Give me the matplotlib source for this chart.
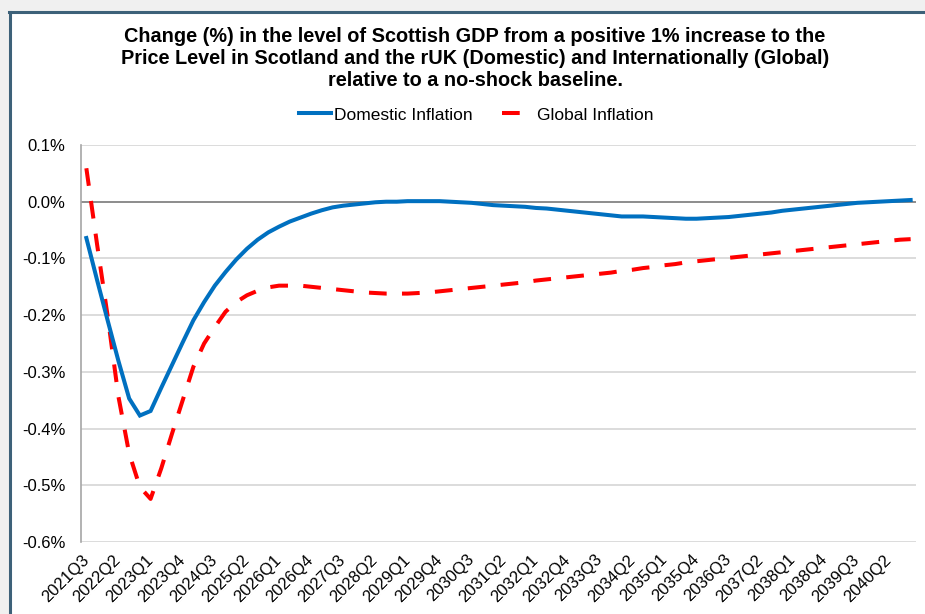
import matplotlib
matplotlib.use("Agg")
import matplotlib.pyplot as plt
from matplotlib.lines import Line2D
from matplotlib.patches import Rectangle
import numpy as np

plt.rcParams['font.family'] = ['Liberation Sans', 'DejaVu Sans']

# Quarterly categories 2021Q3 .. 2040Q4
quarters = [f"{y}Q{q}" for y in range(2021, 2041) for q in range(1, 5)][2:]

# % change in Scottish GDP level vs. no-shock baseline
domestic_inflation = [
    -0.064, -0.138, -0.210, -0.281, -0.347, -0.377, -0.369, -0.328, -0.288, -0.248,
    -0.209, -0.177, -0.148, -0.124, -0.102, -0.083, -0.067, -0.054, -0.044, -0.035,
    -0.028, -0.021, -0.015, -0.010, -0.007, -0.005, -0.003, -0.001, 0.000, 0.000,
    0.001, 0.001, 0.001, 0.001, 0.000, -0.001, -0.002, -0.004, -0.006, -0.007,
    -0.008, -0.009, -0.011, -0.012, -0.014, -0.016, -0.018, -0.020, -0.022, -0.024,
    -0.026, -0.026, -0.026, -0.027, -0.028, -0.029, -0.030, -0.030, -0.029, -0.028,
    -0.027, -0.025, -0.023, -0.021, -0.019, -0.016, -0.014, -0.012, -0.010, -0.008,
    -0.006, -0.004, -0.002, -0.001, 0.000, 0.001, 0.002, 0.003,
]
global_inflation = [
    0.059, -0.075, -0.203, -0.344, -0.444, -0.503, -0.524, -0.470, -0.409, -0.350,
    -0.291, -0.250, -0.221, -0.194, -0.177, -0.165, -0.157, -0.151, -0.148, -0.148,
    -0.148, -0.150, -0.152, -0.154, -0.156, -0.158, -0.160, -0.161, -0.162, -0.162,
    -0.162, -0.161, -0.160, -0.158, -0.156, -0.154, -0.152, -0.150, -0.148, -0.146,
    -0.144, -0.142, -0.139, -0.137, -0.135, -0.133, -0.131, -0.129, -0.127, -0.125,
    -0.122, -0.120, -0.117, -0.115, -0.112, -0.110, -0.107, -0.105, -0.103, -0.101,
    -0.099, -0.097, -0.095, -0.093, -0.091, -0.089, -0.087, -0.085, -0.083, -0.081,
    -0.079, -0.077, -0.075, -0.073, -0.071, -0.069, -0.067, -0.066,
]
y_ticks = [0.1, 0.0, -0.1, -0.2, -0.3, -0.4, -0.5, -0.6]

title = ("Change (%) in the level of Scottish GDP from a positive 1% increase to the\n"
         "Price Level in Scotland and the rUK (Domestic) and Internationally (Global)\n"
         "relative to a no-shock baseline.")

W, H = 925, 614
fig = plt.figure(figsize=(W / 100, H / 100), dpi=100, facecolor='#f0f0f0')

# white chart area with dark frame along left and top edges
fig.patches.append(Rectangle((11 / W, 0), 1, 1 - 13 / H, transform=fig.transFigure,
                             facecolor='white', edgecolor='none', zorder=-2))
fig.lines.append(Line2D([10 / W, 10 / W], [0, 1 - 11.5 / H], transform=fig.transFigure,
                        color='#3d6179', lw=2.2, zorder=-1))
fig.lines.append(Line2D([9 / W, 1], [1 - 12 / H, 1 - 12 / H], transform=fig.transFigure,
                        color='#3d6179', lw=2.2, zorder=-1))

ax = fig.add_axes([81 / W, 1 - 542 / H, (916 - 81) / W, (542 - 145) / H], zorder=1)
ax.set_facecolor('white')

dash = (4.4, 3.8)
x = np.arange(len(quarters))
ax.plot(x, domestic_inflation, color='#0070C0', lw=2.9, solid_joinstyle='miter', zorder=4)
ax.plot(x, global_inflation, color='#FF0000', lw=2.9, dashes=dash,
        dash_capstyle='butt', zorder=3)

ax.set_xlim(-0.5, len(quarters) - 0.5)
ax.set_ylim(-0.6, 0.1)
ax.set_yticks(y_ticks)
ax.set_yticklabels([f"{v:.1f}%".replace("-0.0", "0.0") for v in y_ticks], fontsize=12)
ax.grid(axis='y', color='#d9d9d9', lw=1.3, zorder=0)
ax.axhline(0, color='#808080', lw=1.2, zorder=2)

tick_idx = x[::3]
ax.set_xticks(tick_idx)
ax.set_xticklabels([quarters[i] for i in tick_idx], fontsize=12)
for lbl in ax.get_xticklabels():
    lbl.set_rotation(45)
    lbl.set_ha('right')
    lbl.set_va('center')
    lbl.set_rotation_mode('anchor')
ax.tick_params(axis='both', length=0)
ax.tick_params(axis='x', pad=11)
ax.tick_params(axis='y', pad=11)

for s in ['top', 'right', 'bottom']:
    ax.spines[s].set_visible(False)
ax.spines['left'].set_color('#a6a6a6')
ax.spines['left'].set_linewidth(1.2)

fig.text(475 / W, 1 - 27 / H, title, ha='center', va='top', fontsize=14.3,
         fontweight='bold', linespacing=1.2)

handles = [Line2D([], [], color='#0070C0', lw=2.9),
           Line2D([], [], color='#FF0000', lw=2.9, dashes=dash, dash_capstyle='butt')]
fig.legend(handles, ['Domestic Inflation', 'Global Inflation'], loc='center',
           bbox_to_anchor=(476 / W, 1 - 115 / H), ncol=2, frameon=False, fontsize=12.5,
           handlelength=1.85, handletextpad=0.15, columnspacing=1.7)

fig.savefig('out.png', dpi=100, facecolor=fig.get_facecolor())
